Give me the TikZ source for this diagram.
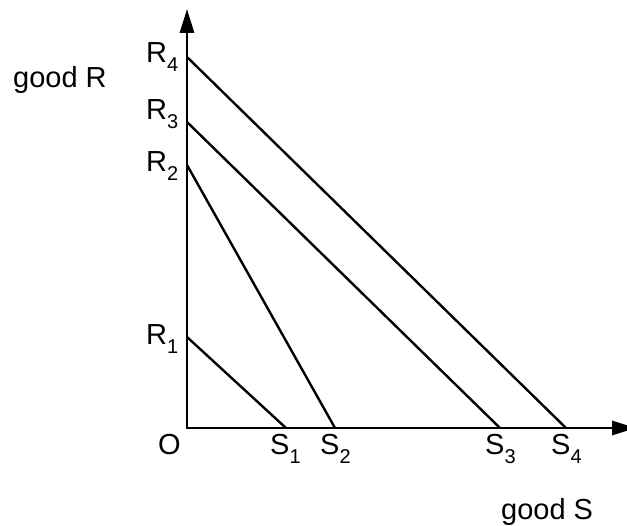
\documentclass[tikz,border=0pt]{standalone}
\usepackage{fontspec}
\setmainfont{Liberation Sans}
\usetikzlibrary{arrows.meta}
\newcommand{\lbl}[2]{#1\raisebox{-9pt}{\fontsize{20}{20}\selectfont #2}}
\begin{document}
\begin{tikzpicture}[x=1pt,y=-1pt,
  axis/.style={line width=2.9pt,-{Triangle[length=24pt,width=14pt]}},
  budget/.style={line width=2.4pt},
  txt/.style={anchor=base west,inner sep=0pt,font=\fontsize{29}{29}\selectfont}]
\useasboundingbox (0,0) rectangle (627,526);
\coordinate (O) at (187,428);
\coordinate (ytip) at (187,9);
\coordinate (xtip) at (636,428);
\coordinate (r1) at (187,337);
\coordinate (r2) at (187,165);
\coordinate (r3) at (187,122);
\coordinate (r4) at (187,57);
\coordinate (s1) at (286,428);
\coordinate (s2) at (335,428);
\coordinate (s3) at (500,428);
\coordinate (s4) at (566,428);
\draw[budget] (r1) -- (s1);
\draw[budget] (r2) -- (s2);
\draw[budget] (r3) -- (s3);
\draw[budget] (r4) -- (s4);
\draw[axis] ([yshift=1.45pt]O) -- (ytip);
\draw[axis] ([xshift=-1.45pt]O) -- (xtip);
\node[txt] (lR4) at (146,63) {\lbl{R}{4}};
\node[txt] (lR3) at (146,120) {\lbl{R}{3}};
\node[txt] (lR2) at (146,172) {\lbl{R}{2}};
\node[txt] (lR1) at (146,345) {\lbl{R}{1}};
\node[txt] (lO) at (158,455) {O};
\node[txt] (lS1) at (270,455) {\lbl{S}{1}};
\node[txt] (lS2) at (320,455) {\lbl{S}{2}};
\node[txt] (lS3) at (485,455) {\lbl{S}{3}};
\node[txt] (lS4) at (551,455) {\lbl{S}{4}};
\node[txt] (gR) at (13,88) {good R};
\node[txt] (gS) at (501,520) {good S};
\end{tikzpicture}
\end{document}
